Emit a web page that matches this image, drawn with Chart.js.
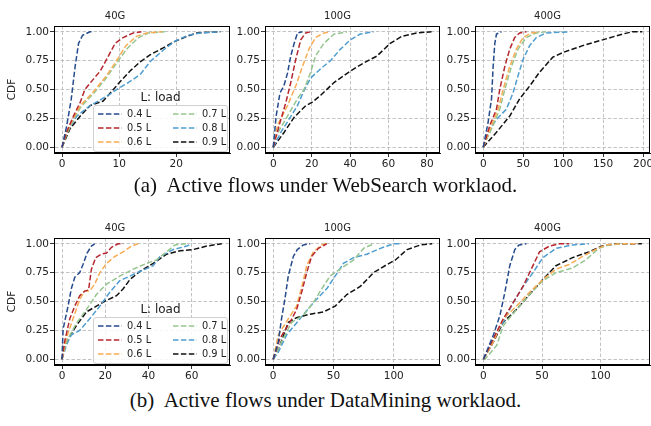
<!DOCTYPE html>
<html>
<head>
<meta charset="utf-8">
<script src="https://cdn.jsdelivr.net/npm/chart.js@4.4.1/dist/chart.umd.min.js"></script>
<style>
  body { margin: 0; background: #fff; width: 651px; height: 426px; position: relative; overflow: hidden; font-family: "DejaVu Sans"; }
  canvas { position: absolute; }
  .caption { position: absolute; left: 0; width: 651px; text-align: center; font-family: "Liberation Serif"; font-size: 21px; line-height: 24px; color: #111; white-space: pre; }
  .lg-title { position: absolute; text-align: center; font-size: 12px; line-height: 14px; color: #222; }
  .lg-box { position: absolute; border: 1px solid #d0d0d0; border-radius: 3px; background: rgba(255,255,255,0.85); box-sizing: border-box; }
  .lg-item { position: absolute; font-size: 9.8px; line-height: 12px; color: #222; white-space: nowrap; }
  .lg-item svg { position: absolute; }
</style>
</head>
<body>
<canvas id="ws40" width="235" height="175" style="left:0;top:0"></canvas>
<canvas id="ws100" width="210" height="175" style="left:235px;top:0"></canvas>
<canvas id="ws400" width="206" height="175" style="left:445px;top:0"></canvas>
<canvas id="dm40" width="235" height="175" style="left:0;top:212px"></canvas>
<canvas id="dm100" width="210" height="175" style="left:235px;top:212px"></canvas>
<canvas id="dm400" width="206" height="175" style="left:445px;top:212px"></canvas>
<div class="caption" style="top:173px">(a)  Active flows under WebSearch worklaod.</div>
<div class="caption" style="top:388px">(b)  Active flows under DataMining worklaod.</div>
<script>
const loadLabels = ["0.4 L", "0.5 L", "0.6 L", "0.7 L", "0.8 L", "0.9 L"];
const lineColors = ["#254b8c", "#b5282f", "#f8ac55", "#96c58f", "#4f9dd0", "#111111"];
const yTicks = [0, 0.25, 0.5, 0.75, 1];

// WebSearch, [active flows, CDF]
const ws40 = [
  [[0,0],[0.8,0.18],[1.6,0.41],[2.3,0.70],[2.9,0.90],[3.6,0.97],[4.9,1.0],[5.4,1.0]],
  [[0,0],[0.8,0.13],[2,0.27],[3.2,0.39],[4,0.5],[5.5,0.59],[6.7,0.66],[7.8,0.76],[9.3,0.9],[10.7,0.95],[12.5,0.99],[13.9,1.0]],
  [[0,0],[0.9,0.14],[2,0.25],[3.2,0.36],[5.5,0.48],[7.8,0.62],[9.8,0.77],[11.2,0.88],[13,0.96],[14.8,0.99],[17.5,1.0]],
  [[0,0],[0.9,0.12],[2,0.24],[3.3,0.35],[5.6,0.47],[7.9,0.61],[10,0.76],[11.5,0.86],[13.4,0.95],[15.2,0.99],[18,1.0]],
  [[0,0],[0.8,0.13],[2.6,0.27],[4.9,0.36],[6.7,0.41],[8.4,0.46],[9.9,0.51],[11.9,0.57],[13.7,0.63],[15.4,0.74],[17.7,0.84],[19.8,0.92],[22.1,0.97],[24.2,0.99],[27.7,1.0]],
  [[0,0],[1.4,0.16],[3.2,0.27],[4.9,0.36],[7.2,0.40],[9,0.5],[10.2,0.57],[11.9,0.66],[13.7,0.74],[15.4,0.8],[17.7,0.86],[19.5,0.91],[21.8,0.96],[23.6,0.99],[27.7,1.0]]
];
const ws100 = [
  [[0,0],[1.5,0.27],[3.5,0.47],[5.5,0.53],[7.4,0.64],[9.1,0.79],[10.9,0.9],[12.6,0.99],[15.2,1.0]],
  [[0,0],[3.1,0.19],[6.6,0.39],[9.1,0.56],[11.7,0.76],[14.3,0.93],[16.9,0.99],[19.5,1.0]],
  [[0,0],[2.2,0.19],[7.4,0.36],[11.7,0.53],[15.2,0.70],[18.6,0.85],[22,0.95],[26.4,0.99],[29.8,1.0]],
  [[0,0],[0.5,0.07],[7.4,0.27],[12.6,0.42],[16,0.5],[19.5,0.65],[22,0.79],[26.4,0.9],[31.6,0.98],[38.4,1.0]],
  [[0,0],[4,0.13],[7.4,0.22],[12.6,0.36],[16,0.49],[19.5,0.6],[24.7,0.68],[29.8,0.75],[35,0.85],[40.2,0.93],[45.3,0.98],[52.2,1.0]],
  [[0,0],[5.7,0.13],[10.9,0.26],[16.9,0.36],[20.3,0.39],[24.7,0.45],[31.6,0.56],[40.2,0.66],[47.1,0.73],[54,0.79],[60.9,0.9],[66.9,0.96],[74.7,0.99],[82.4,1.0]]
];
const ws400 = [
  [[0,0],[6.2,0.22],[10.4,0.42],[12.4,0.70],[14.5,0.9],[16.6,0.98],[22.8,1.0]],
  [[0,0],[8.3,0.19],[16.6,0.33],[20.7,0.5],[27,0.7],[33.2,0.85],[39.4,0.95],[45.6,0.99],[54,1.0]],
  [[0,0],[10.4,0.19],[18.7,0.33],[24.9,0.5],[33.2,0.7],[41.5,0.85],[49.8,0.95],[60.2,0.99],[70.5,1.0]],
  [[0,0],[12.4,0.19],[20.7,0.33],[27,0.5],[35.3,0.7],[43.6,0.85],[53.9,0.95],[66.4,0.99],[78.8,1.0]],
  [[0,0],[8.3,0.16],[16.6,0.24],[29,0.33],[37.3,0.47],[43.6,0.62],[49.8,0.76],[58.1,0.88],[66.4,0.95],[78.8,0.99],[107.9,1.0]],
  [[0,0],[16.6,0.13],[33.2,0.27],[45.6,0.42],[58.1,0.53],[70.5,0.65],[87.1,0.78],[99.6,0.82],[124.5,0.88],[149.4,0.93],[174.3,0.98],[186.7,1.0],[199,1.0]]
];

// DataMining
const dm40 = [
  [[0,0],[0.5,0.26],[2.8,0.46],[4.3,0.61],[5.9,0.71],[8.2,0.75],[9.7,0.82],[11.6,0.92],[13.6,0.98],[15.1,1.0]],
  [[0,0],[1.2,0.15],[3.6,0.35],[5.9,0.46],[8.2,0.55],[10.5,0.59],[12.3,0.6],[13.6,0.78],[15.6,0.88],[18.2,0.91],[20.6,0.92],[22.9,0.97],[26,1.0],[28.3,1.0]],
  [[0,0],[2,0.18],[5.1,0.35],[8.2,0.52],[10.5,0.59],[12.8,0.59],[15.1,0.65],[17.5,0.75],[20.6,0.83],[24.4,0.89],[28.3,0.93],[32.1,0.98],[35.2,1.0]],
  [[0,0],[2,0.15],[6.6,0.31],[11.3,0.43],[15.9,0.56],[20.6,0.65],[26.7,0.72],[32.9,0.78],[39.1,0.83],[43.7,0.86],[48.4,0.93],[52.2,0.99],[57.7,1.0]],
  [[0,0],[2,0.12],[4.3,0.21],[8.2,0.25],[12.8,0.35],[17.5,0.46],[22.1,0.58],[26.7,0.68],[31.4,0.72],[36,0.76],[42.2,0.81],[45.3,0.89],[51.5,0.95],[57.7,0.98],[60,1.0]],
  [[0,0],[2,0.15],[6.6,0.29],[11.3,0.41],[15.9,0.46],[20.6,0.51],[25.2,0.55],[28.3,0.61],[31.4,0.69],[36,0.76],[42.2,0.83],[48.4,0.91],[54.6,0.94],[60.7,0.95],[66.9,0.98],[73.9,1.0]]
];
const dm100 = [
  [[0,0],[4.2,0.15],[6.9,0.35],[9.7,0.52],[12.5,0.72],[16.7,0.89],[20,0.95],[25,0.99],[30.6,1.0]],
  [[0,0],[5.6,0.18],[13.9,0.32],[19.4,0.43],[23.6,0.58],[27.8,0.75],[31.9,0.89],[37.5,0.96],[44.4,1.0]],
  [[0,0],[4.2,0.21],[12.5,0.35],[19.4,0.46],[23.6,0.62],[27.8,0.81],[33.3,0.93],[40.3,0.99],[44.4,1.0]],
  [[0,0],[6.9,0.15],[15.3,0.32],[25,0.38],[33.3,0.49],[40.3,0.61],[47.2,0.72],[56.9,0.79],[66.7,0.86],[75,0.96],[83.3,1.0]],
  [[0,0],[4.2,0.06],[11.1,0.21],[22.2,0.35],[33.3,0.49],[44.4,0.61],[51.4,0.72],[58.3,0.83],[66.7,0.88],[77.8,0.91],[88.9,0.96],[100,1.0],[106.9,1.0]],
  [[0,0],[5.6,0.12],[12.5,0.32],[19.4,0.36],[30.6,0.39],[41.7,0.41],[51.4,0.46],[61.1,0.56],[72.2,0.63],[83.3,0.75],[94.4,0.82],[101.4,0.86],[111.1,0.95],[122.2,0.99],[131.9,1.0]]
];
const dm400 = [
  [[0,0],[8.5,0.21],[14.1,0.38],[18.3,0.58],[22.5,0.81],[26.8,0.95],[30.4,0.99],[36.6,1.0]],
  [[0,0],[8.5,0.18],[16.9,0.35],[25.4,0.49],[33.8,0.63],[40.8,0.78],[47.9,0.93],[56.3,0.98],[64.8,1.0],[73.2,1.0]],
  [[0,0],[8.5,0.15],[16.9,0.35],[28.2,0.46],[39.4,0.58],[50.7,0.69],[62,0.78],[73.2,0.82],[84.5,0.89],[95.8,0.95],[104.2,0.99],[118.3,1.0],[132.4,1.0]],
  [[0,0],[1.4,0],[11.3,0.12],[16.9,0.29],[28.2,0.43],[39.4,0.56],[50.7,0.68],[62,0.75],[76.1,0.79],[87.3,0.86],[98.6,0.96],[107,0.99],[118.3,1.0]],
  [[0,0],[8.5,0.18],[16.9,0.32],[25.4,0.49],[33.8,0.63],[42.3,0.75],[50.7,0.88],[62,0.96],[76.1,0.99],[90.1,1.0]],
  [[0,0],[8.5,0.15],[16.9,0.32],[28.2,0.43],[39.4,0.56],[50.7,0.69],[62,0.81],[76.1,0.88],[90.1,0.93],[101.4,0.98],[112.7,1.0],[135.2,1.0]]
];

const xTicks40ws = [0, 10, 20];
const xTicks100ws = [0, 20, 40, 60, 80];
const xTicks400ws = [0, 50, 100, 150, 200];
const xTicks40dm = [0, 20, 40, 60];
const xTicks100dm = [0, 50, 100];
const xTicks400dm = [0, 50, 100];

Chart.defaults.font.family = "DejaVu Sans";

// black box round the plot area, like matplotlib spines
const framePlugin = {
  id: "frame",
  afterDraw(chart) {
    const a = chart.chartArea, ctx = chart.ctx;
    ctx.save();
    ctx.strokeStyle = "#000";
    ctx.lineWidth = 1;
    ctx.strokeRect(Math.round(a.left) + 0.5, Math.round(a.top) + 0.5, Math.round(a.right - a.left) - 1, Math.round(a.bottom - a.top) - 1);
    ctx.restore();
  }
};

function makePanel(id, title, series, xMin, xMax, xTicks, yAxisW, padRight, showYTitle) {
  const gridOpts = { color: "#b4b4b4", lineWidth: 0.8, tickColor: "#000", tickLength: 4, tickWidth: 0.8 };
  const borderOpts = { display: true, color: "#000", width: 1, dash: [3.5, 2] };
  const tickFont = { size: 10.5 };
  new Chart(document.getElementById(id), {
    type: "line",
    data: {
      datasets: series.map((pts, i) => ({
        label: loadLabels[i],
        data: pts.map(p => ({ x: p[0], y: p[1] })),
        borderColor: lineColors[i],
        borderWidth: 1.5,
        borderDash: [5.5, 2.4],
        pointRadius: 0,
        fill: false,
        tension: 0
      }))
    },
    options: {
      responsive: false,
      animation: false,
      layout: { padding: { left: 0, right: padRight, top: 0, bottom: 0 } },
      plugins: {
        legend: { display: false },
        tooltip: { enabled: false },
        title: { display: true, text: title, color: "#222", font: { size: 10, weight: "normal" }, padding: { top: 10, bottom: 4 } }
      },
      scales: {
        x: {
          type: "linear", min: xMin, max: xMax,
          afterBuildTicks: s => { s.ticks = xTicks.map(v => ({ value: v })); },
          afterFit: s => { s.height = 22; s.paddingLeft = 0; s.paddingRight = 0; },
          ticks: { color: "#222", font: tickFont, padding: 1, maxRotation: 0, callback: v => String(v) },
          grid: gridOpts, border: borderOpts
        },
        y: {
          type: "linear", min: -0.05, max: 1.05,
          afterBuildTicks: s => { s.ticks = yTicks.map(v => ({ value: v })); },
          afterFit: s => { s.width = yAxisW; },
          ticks: { color: "#222", font: tickFont, padding: 1, callback: v => v.toFixed(2) },
          title: { display: showYTitle, text: "CDF", color: "#222", font: { size: 10.5 }, padding: { top: 6, bottom: 0 } },
          grid: gridOpts, border: borderOpts
        }
      }
    },
    plugins: [framePlugin]
  });
}

function addLegend(frameTop) {
  const title = document.createElement("div");
  title.className = "lg-title";
  title.textContent = "L: load";
  Object.assign(title.style, { left: "93px", width: "135px", top: (frameTop + 63.5) + "px" });
  document.body.appendChild(title);

  const box = document.createElement("div");
  box.className = "lg-box";
  Object.assign(box.style, { left: "93px", width: "135px", top: (frameTop + 79) + "px", height: "47px" });
  const rows = [8.5, 22.5, 37];
  loadLabels.forEach((lab, i) => {
    const col = Math.floor(i / 3), row = i % 3;
    const item = document.createElement("div");
    item.className = "lg-item";
    Object.assign(item.style, { left: (col === 0 ? 4 : 79) + "px", top: (rows[row] - 6 - 1) + "px", paddingLeft: "29px" });
    item.innerHTML = '<svg width="24" height="4" style="left:0;top:4px"><line x1="0" y1="2" x2="24" y2="2" stroke="' +
      lineColors[i] + '" stroke-width="1.5" stroke-dasharray="5.5 2.4"/></svg>' + lab;
    box.appendChild(item);
  });
  document.body.appendChild(box);
}

makePanel("ws40", "40G", ws40, -1.4, 29.4, xTicks40ws, 54, 5, true);
makePanel("ws100", "100G", ws100, -4.3, 86.8, xTicks100ws, 30, 5, false);
makePanel("ws400", "400G", ws400, -10.3, 208.7, xTicks400ws, 30, 1, false);
makePanel("dm40", "40G", dm40, -3.7, 77.7, xTicks40dm, 54, 5, true);
makePanel("dm100", "100G", dm100, -6.8, 138.4, xTicks100dm, 30, 5, false);
makePanel("dm400", "400G", dm400, -7.2, 142.2, xTicks400dm, 30, 1, false);

addLegend(26);
addLegend(238);
</script>
</body>
</html>
